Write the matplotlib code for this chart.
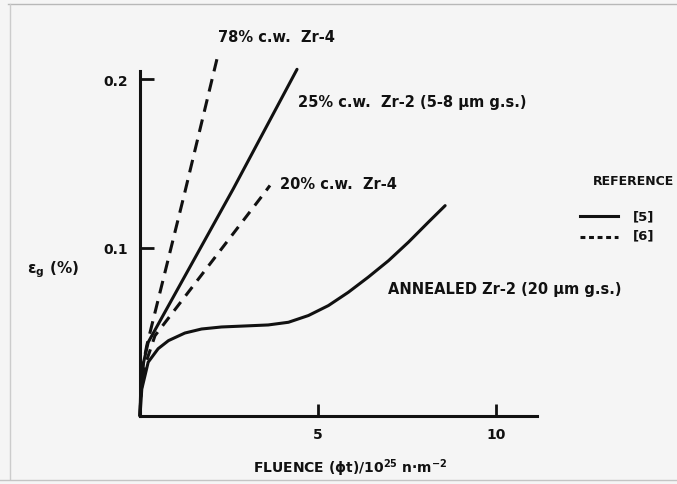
import matplotlib
matplotlib.use("Agg")
import matplotlib.pyplot as plt
from matplotlib.lines import Line2D

# Growth strain vs. fluence for zirconium alloys
ann_x = [0.0, 0.05, 0.23, 0.51, 0.80, 1.26, 1.73, 2.29, 2.95, 3.60, 4.17, 4.73,
         5.29, 5.85, 6.41, 6.98, 7.54, 8.10, 8.57]
ann_y = [0.0, 0.016, 0.032, 0.040, 0.0448, 0.0493, 0.0517, 0.0529, 0.0535, 0.0541,
         0.0557, 0.0597, 0.0656, 0.0735, 0.0825, 0.0923, 0.1033, 0.1152, 0.125]

cw25_x = [0.0, 0.02, 0.08, 0.23, 2.62, 4.41]
cw25_y = [0.0, 0.016, 0.030, 0.0438, 0.135, 0.206]

cw78_x = [0.0, 0.03, 0.10, 0.19, 1.26, 2.16]
cw78_y = [0.0, 0.018, 0.032, 0.0418, 0.133, 0.212]

cw20_x = [0.0, 0.03, 0.14, 0.42, 3.51, 3.65]
cw20_y = [0.0, 0.015, 0.030, 0.0477, 0.133, 0.137]

x_ticks = [5, 10]
y_ticks = [0.1, 0.2]

ink = "#111111"
bg = "#f5f5f5"

plt.rcParams["font.family"] = ["DejaVu Sans"]
plt.rcParams["font.weight"] = "bold"
plt.rcParams["mathtext.default"] = "bf"

W, H = 677, 485
fig = plt.figure(figsize=(W / 100, H / 100), dpi=100, facecolor=bg)
ax = fig.add_axes([140 / W, 1 - 417 / H, (537 - 140) / W, (417 - 72) / H])
ax.set_facecolor(bg)
ax.set_xlim(0, 11.15)
ax.set_ylim(0, 0.205)

lw = 2.2
ax.plot(ann_x, ann_y, color=ink, lw=lw, solid_capstyle="round", solid_joinstyle="round", clip_on=False)
ax.plot(cw25_x, cw25_y, color=ink, lw=lw, solid_capstyle="round", solid_joinstyle="round", clip_on=False)
ax.plot(cw78_x, cw78_y, color=ink, lw=lw, dashes=(4.2, 2.6), clip_on=False)
ax.plot(cw20_x, cw20_y, color=ink, lw=lw, dashes=(3.6, 2.6), clip_on=False)

for s in ("top", "right"):
    ax.spines[s].set_visible(False)
for s in ("left", "bottom"):
    ax.spines[s].set_linewidth(2.2)
    ax.spines[s].set_color(ink)

ax.set_xticks(x_ticks)
ax.set_xticklabels([str(v) for v in x_ticks])
ax.set_yticks(y_ticks)
ax.set_yticklabels([f"{v:.1f}" for v in y_ticks])
ax.tick_params(axis="x", direction="in", length=8.5, width=2, colors=ink, labelsize=10, pad=8)
ax.tick_params(axis="y", direction="in", length=10, width=2, colors=ink, labelsize=10, pad=9)

fs = 10.5
ax.text(2.19, 0.2253, "78% c.w.  Zr-4", fontsize=fs, va="center", ha="left", color=ink, clip_on=False)
ax.text(4.44, 0.187, "25% c.w.  Zr-2 (5-8 μm g.s.)", fontsize=fs, va="center", ha="left", color=ink, clip_on=False)
ax.text(3.93, 0.138, "20% c.w.  Zr-4", fontsize=fs, va="center", ha="left", color=ink, clip_on=False)
ax.text(6.97, 0.0755, "ANNEALED Zr-2 (20 μm g.s.)", fontsize=fs, va="center", ha="left", color=ink, clip_on=False)

# reference key
ax.text(12.72, 0.1397, "REFERENCE", fontsize=9, va="center", ha="left", color=ink, clip_on=False)
ax.add_line(Line2D([12.36, 13.43], [0.1189, 0.1189], color=ink, lw=lw, clip_on=False))
ax.add_line(Line2D([12.36, 13.43], [0.1064, 0.1064], color=ink, lw=lw, dashes=(1.6, 1.2), clip_on=False))
ax.text(13.85, 0.1189, "[5]", fontsize=9.5, va="center", ha="left", color=ink, clip_on=False)
ax.text(13.85, 0.1075, "[6]", fontsize=9.5, va="center", ha="left", color=ink, clip_on=False)

fig.text(27 / W, 1 - 270 / H, r"$\epsilon_g$ (%)", fontsize=11, va="center", ha="left", color=ink)
fig.text(350 / W, 1 - 468 / H, r"FLUENCE ($\phi$t)/10$^{25}$ n·m$^{-2}$", fontsize=10,
         va="center", ha="center", color=ink)

# faint page border
fig.add_artist(Line2D([8 / W, 1], [1 - 5 / H, 1 - 5 / H], color="#b8b8b8", lw=1))
fig.add_artist(Line2D([10 / W, 10 / W], [1 - 5 / H, 1 - 480 / H], color="#cccccc", lw=1))
fig.add_artist(Line2D([0, 1], [1 - 481 / H, 1 - 481 / H], color="#c4c4c4", lw=1))

fig.savefig("out.png", dpi=100, facecolor=bg)
